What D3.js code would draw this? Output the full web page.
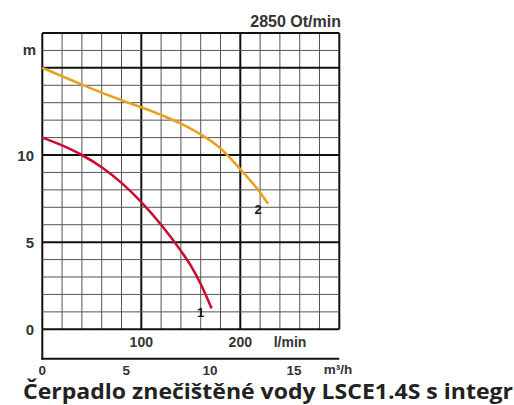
<!DOCTYPE html>
<html>
<head>
<meta charset="utf-8">
<script src="https://cdn.jsdelivr.net/npm/d3@7"></script>
<style>
  html, body { margin: 0; padding: 0; background: #fff; overflow: hidden; }
  svg { display: block; }
  .lbl { font-family: "Liberation Sans", Arial, sans-serif; font-weight: bold; fill: #333; }
</style>
</head>
<body>
<svg id="chart" width="514" height="405"></svg>
<script>
// ---- data ----
const flowLmin1 = [0, 20, 40, 60, 80, 100, 120, 140, 150, 160, 171];
const head1     = [11.0, 10.55, 10.0, 9.3, 8.4, 7.3, 6.0, 4.5, 3.65, 2.6, 1.2];
const flowLmin2 = [0, 20, 40, 60, 80, 100, 120, 140, 160, 180, 200, 220, 228];
const head2     = [15.0, 14.52, 14.04, 13.58, 13.15, 12.74, 12.3, 11.8, 11.18, 10.38, 9.18, 7.85, 7.2];
const curveNames = ["1", "2"];
const yTicks = [0, 5, 10];
const lminTicks = [100, 200];
const m3hTicks = [0, 5, 10, 15];
const speedLabel = "2850 Ot/min";
const yUnit = "m";
const lminUnit = "l/min";
const m3hUnit = "m³/h";
const title = "Čerpadlo znečištěné vody LSCE1.4S s integr";

// ---- layout ----
const svg = d3.select("#chart");
const pLeft = 42.3, pRight = 339.3, pTop = 33, pBottom = 329.3, lowerBottom = 358.7;
const x = d3.scaleLinear().domain([0, 300]).range([pLeft, pRight]);
const y = d3.scaleLinear().domain([0, 17]).range([pBottom, pTop]);
const xm = d3.scaleLinear().domain([0, 15]).range([pLeft, 294]);

// grid
const g = svg.append("g");
d3.range(0, 301, 20).forEach((v, i) => {
  const thick = i % 5 === 0;
  g.append("line").attr("x1", x(v)).attr("x2", x(v)).attr("y1", y(0)).attr("y2", y(17))
    .attr("stroke", thick ? "#111" : "#555").attr("stroke-width", thick ? 2 : 1);
});
d3.range(0, 18, 1).forEach(v => {
  const thick = v % 5 === 0 || v === 17;
  g.append("line").attr("x1", x(0)).attr("x2", x(300)).attr("y1", y(v)).attr("y2", y(v))
    .attr("stroke", thick ? "#111" : "#555").attr("stroke-width", thick ? 2 : 1);
});
// lower axis box
g.append("line").attr("x1", pLeft).attr("x2", pLeft).attr("y1", y(0)).attr("y2", lowerBottom + 1)
  .attr("stroke", "#111").attr("stroke-width", 2);
g.append("line").attr("x1", pLeft - 1).attr("x2", pRight).attr("y1", lowerBottom).attr("y2", lowerBottom)
  .attr("stroke", "#111").attr("stroke-width", 2);

// curves
const line = d3.line().x(d => x(d[0])).y(d => y(d[1])).curve(d3.curveMonotoneX);
const data1 = flowLmin1.map((q, i) => [q, head1[i]]);
const data2 = flowLmin2.map((q, i) => [q, head2[i]]);
svg.append("path").attr("d", line(data2)).attr("fill", "none").attr("stroke", "#E9A21E").attr("stroke-width", 2.6);
svg.append("path").attr("d", line(data1)).attr("fill", "none").attr("stroke", "#C8102E").attr("stroke-width", 2.6);

// curve labels
svg.append("text").attr("class", "lbl").attr("x", x(160)).attr("y", y(0.7)).attr("text-anchor", "middle")
  .style("font-size", "13px").style("fill", "#111").text(curveNames[0]);
svg.append("text").attr("class", "lbl").attr("x", x(218)).attr("y", y(6.6)).attr("text-anchor", "middle")
  .style("font-size", "13px").style("fill", "#111").text(curveNames[1]);

// y labels
yTicks.forEach(v => {
  svg.append("text").attr("class", "lbl").attr("x", 34).attr("y", y(v) + 5.5).attr("text-anchor", "end")
    .style("font-size", "15px").text(v);
});
svg.append("text").attr("class", "lbl").attr("x", 36).attr("y", y(16) + 5).attr("text-anchor", "end")
  .style("font-size", "15px").text(yUnit);

// top label
svg.append("text").attr("class", "lbl").attr("x", 341).attr("y", 27).attr("text-anchor", "end")
  .style("font-size", "16px").text(speedLabel);

// l/min labels
lminTicks.forEach(v => {
  svg.append("text").attr("class", "lbl").attr("x", x(v)).attr("y", 347).attr("text-anchor", "middle")
    .style("font-size", "14px").text(v);
});
svg.append("text").attr("class", "lbl").attr("x", 290).attr("y", 347).attr("text-anchor", "middle")
  .style("font-size", "14px").text(lminUnit);

// m3/h labels
m3hTicks.forEach(v => {
  svg.append("text").attr("class", "lbl").attr("x", xm(v)).attr("y", 374.5).attr("text-anchor", "middle")
    .style("font-size", "13.5px").text(v);
});
svg.append("text").attr("class", "lbl").attr("x", 338).attr("y", 374).attr("text-anchor", "middle")
  .style("font-size", "13.5px").text(m3hUnit);

// title
svg.append("text").attr("x", 23).attr("y", 398.5)
  .attr("textLength", 490).attr("lengthAdjust", "spacingAndGlyphs")
  .style("font-family", "'Open Sans', Lato, sans-serif").style("font-weight", "bold")
  .style("font-size", "20.5px").style("fill", "#222").text(title);
</script>
</body>
</html>
